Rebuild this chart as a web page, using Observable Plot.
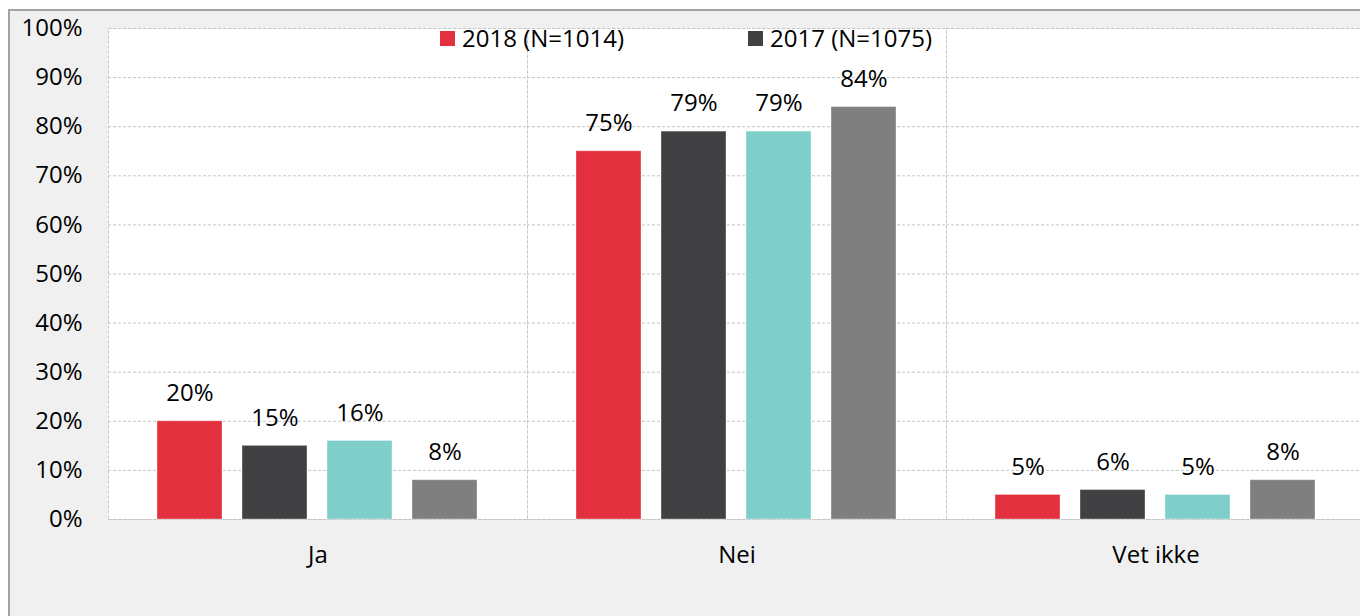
<!DOCTYPE html>
<html><head><meta charset="utf-8">
<script src="https://cdn.jsdelivr.net/npm/d3@7"></script>
<script src="https://cdn.jsdelivr.net/npm/@observablehq/plot@0.6"></script>
<style>
html,body{margin:0;padding:0;overflow:hidden;background:#fff;width:1360px;height:616px;font-family:"Open Sans",sans-serif}
#bg{position:absolute;left:8px;top:9px;width:1400px;height:700px;background:#f0f0f0;border-top:2px solid #a3a3a3;border-left:2px solid #a3a3a3}
#chart{position:absolute;left:0;top:0;width:1370px}
#chart svg{max-width:none !important}
.lg{position:absolute;top:23px;height:30px;font-size:24px;line-height:30px;color:#000;white-space:nowrap;display:flex;align-items:center}
.lg span.sw{display:inline-block;width:15px;height:15px;margin-right:7px}
</style>
</head><body>
<div id="bg"></div>
<div id="chart"></div>
<script>
const categories = ["Ja", "Nei", "Vet ikke"];
const series = ["2018 (N=1014)", "2017 (N=1075)", "Serie 3", "Serie 4"];
const legendSeries = ["2018 (N=1014)", "2017 (N=1075)"];
const colors = ["#e3303e", "#414143", "#7ececa", "#7f7f7f"];
const values2018 = [0.20, 0.75, 0.05];
const values2017 = [0.15, 0.79, 0.06];
const valuesSerie3 = [0.16, 0.79, 0.05];
const valuesSerie4 = [0.08, 0.84, 0.08];
const yTicks = [0, 0.1, 0.2, 0.3, 0.4, 0.5, 0.6, 0.7, 0.8, 0.9, 1.0];

const allValues = [values2018, values2017, valuesSerie3, valuesSerie4];
const data = [];
categories.forEach((c, i) => series.forEach((s, j) => data.push({category: c, series: s, value: allValues[j][i]})));

const fmt = d => Math.round(d * 100) + "%";

const chart = Plot.plot({
  width: 1370, height: 616,
  marginLeft: 108, marginRight: 5, marginTop: 28, marginBottom: 97,
  style: {fontFamily: "Open Sans, sans-serif", fontSize: "24px", color: "#000", background: "transparent", maxWidth: "none"},
  fx: {domain: categories, padding: 0, label: null, axis: "bottom", tickSize: 0, tickPadding: 26},
  x: {domain: series, paddingInner: 0.235, paddingOuter: 0.58, axis: null},
  y: {domain: [0, 1], ticks: yTicks, tickFormat: fmt, tickSize: 0, tickPadding: 26, label: null},
  color: {domain: series, range: colors},
  marks: [
    Plot.frame({fill: "#fff", stroke: "#c6c6c6", strokeDasharray: "3,2"}),
    Plot.gridY(yTicks, {stroke: "#c6c6c6", strokeOpacity: 1, strokeDasharray: "3,2"}),
    Plot.barY(data, {fx: "category", x: "series", y: "value", fill: "series", stroke: "#ffffff", strokeOpacity: 0.35, strokeWidth: 1}),
    Plot.text(data, {fx: "category", x: "series", y: "value", text: d => fmt(d.value), dy: -28, fill: "#000", fontSize: 24})
  ]
});
chart.style.maxWidth = "none";
document.getElementById("chart").appendChild(chart);

const lgX = [440, 748];
legendSeries.forEach((s, i) => {
  const d = document.createElement("div");
  d.className = "lg";
  d.style.left = lgX[i] + "px";
  d.innerHTML = `<span class="sw" style="background:${colors[series.indexOf(s)]}"></span>${s}`;
  document.body.appendChild(d);
});
</script>
</body></html>
